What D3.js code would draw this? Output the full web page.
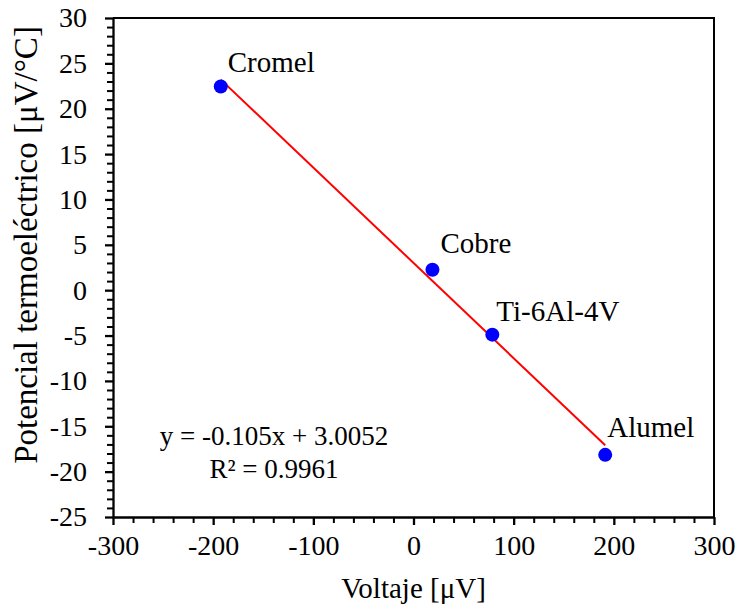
<!DOCTYPE html>
<html>
<head>
<meta charset="utf-8">
<script src="https://cdn.jsdelivr.net/npm/d3@7"></script>
<style>
  html, body { margin: 0; padding: 0; background: #fff; }
</style>
</head>
<body>
<svg id="chart" width="738" height="608"></svg>
<script>
// Materials and their measured values
const materials = ["Cromel", "Cobre", "Ti-6Al-4V", "Alumel"];
const voltage = [-192.4, 18.9, 78.7, 191.4];      // µV
const seebeck = [22.45, 2.25, -4.9, -18.15];       // µV/°C

// Linear fit shown on the chart
const slope = -0.105;
const intercept = 3.0052;
const r2 = 0.9961;

// Axis ticks
const xTicks = [-300, -200, -100, 0, 100, 200, 300];
const yTicks = [-25, -20, -15, -10, -5, 0, 5, 10, 15, 20, 25, 30];

const W = 738, H = 608;
const margin = { left: 113, right: 24, top: 18, bottom: 91 };
const tickFont = 28, labelFont = 29, eqFont = 27, xTitleFont = 29, yTitleFont = 33;
const serif = "'Liberation Serif', 'Times New Roman', Tinos, serif";

const svg = d3.select("#chart").attr("font-family", serif);
const x = d3.scaleLinear().domain([-300, 300]).range([margin.left, W - margin.right]);
const y = d3.scaleLinear().domain([-25, 30]).range([H - margin.bottom, margin.top]);

// Frame (top and right)
svg.append("path")
  .attr("d", `M${x(-300)},${y(30)}H${x(300)}V${y(-25)}`)
  .attr("fill", "none").attr("stroke", "#000").attr("stroke-width", 2);

// Minor ticks
const xMinor = d3.range(-300, 301, 20).filter(v => v % 100 !== 0);
const yMinor = d3.range(-25, 31, 1).filter(v => v % 5 !== 0);

svg.append("g")
  .attr("transform", `translate(0,${y(-25)})`)
  .call(d3.axisBottom(x).tickValues(xMinor).tickSize(6).tickFormat(""))
  .call(g => g.select(".domain").remove())
  .call(g => g.selectAll("line").attr("stroke-width", 2));

svg.append("g")
  .attr("transform", `translate(${x(-300)},0)`)
  .call(d3.axisLeft(y).tickValues(yMinor).tickSize(6).tickFormat(""))
  .call(g => g.select(".domain").remove())
  .call(g => g.selectAll("line").attr("stroke-width", 2));

// Major axes
const xAxis = svg.append("g")
  .attr("transform", `translate(0,${y(-25)})`)
  .call(d3.axisBottom(x).tickValues(xTicks).tickSizeInner(8).tickSizeOuter(0).tickPadding(10).tickFormat(d3.format("d")));
xAxis.attr("font-family", serif).attr("font-size", tickFont);
xAxis.select(".domain").attr("stroke-width", 2.3);
xAxis.selectAll("line").attr("stroke-width", 2.3);
xAxis.selectAll("text").attr("dy", "0.71em");

const yAxis = svg.append("g")
  .attr("transform", `translate(${x(-300)},0)`)
  .call(d3.axisLeft(y).tickValues(yTicks).tickSizeInner(8).tickSizeOuter(0).tickPadding(18).tickFormat(d3.format("d")));
yAxis.attr("font-family", serif).attr("font-size", tickFont);
yAxis.select(".domain").attr("stroke-width", 2.3);
yAxis.selectAll("line").attr("stroke-width", 2.3);

// Use plain hyphen for negative numbers
svg.selectAll(".tick text").text(function () { return this.textContent.replace("\u2212", "-"); });

// Trend line across the data range
const xMin = d3.min(voltage), xMax = d3.max(voltage);
const line = d3.line().x(d => x(d[0])).y(d => y(d[1]));
svg.append("path")
  .attr("d", line([[xMin, slope * xMin + intercept], [xMax, slope * xMax + intercept]]))
  .attr("stroke", "#ff0000").attr("stroke-width", 2).attr("fill", "none");

// Data points
const pts = materials.map((m, i) => ({ name: m, v: voltage[i], s: seebeck[i] }));
svg.append("g").selectAll("circle").data(pts).join("circle")
  .attr("cx", d => x(d.v)).attr("cy", d => y(d.s)).attr("r", 7)
  .attr("fill", "#0000ff");

// Point labels
const labelOffset = { "Cromel": [7, -14], "Cobre": [8, -17], "Ti-6Al-4V": [4, -14], "Alumel": [2, -18] };
svg.append("g").selectAll("text").data(pts).join("text")
  .attr("x", d => x(d.v) + labelOffset[d.name][0])
  .attr("y", d => y(d.s) + labelOffset[d.name][1])
  .attr("font-family", serif).attr("font-size", labelFont)
  .text(d => d.name);

// Equation
const eq = svg.append("text").attr("text-anchor", "middle")
  .attr("font-family", serif).attr("font-size", eqFont);
eq.append("tspan").attr("x", 274).attr("y", 445).text(`y = ${slope}x + ${intercept}`);
eq.append("tspan").attr("x", 274).attr("y", 478).text(`R\u00b2 = ${r2}`);

// Axis titles
svg.append("text")
  .attr("x", (x(-300) + x(300)) / 2).attr("y", 598)
  .attr("text-anchor", "middle").attr("font-family", serif).attr("font-size", xTitleFont)
  .text("Voltaje [\u03bcV]");

svg.append("text")
  .attr("transform", "translate(37,245) rotate(-90)")
  .attr("text-anchor", "middle").attr("font-family", serif).attr("font-size", yTitleFont)
  .text("Potencial termoeléctrico [\u03bcV/°C]");
</script>
</body>
</html>
